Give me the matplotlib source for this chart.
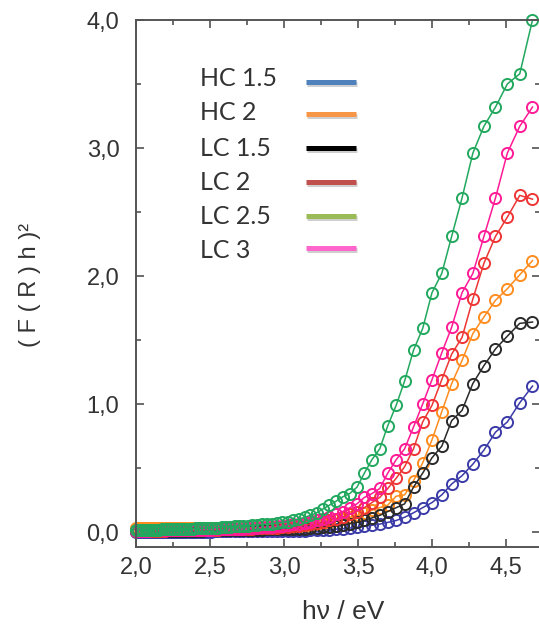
import numpy as np
import matplotlib
matplotlib.use('Agg')
import matplotlib.pyplot as plt
from matplotlib.ticker import MultipleLocator, FuncFormatter
from matplotlib.lines import Line2D
import matplotlib.patheffects as pe

# photon energy grid (eV)
hv = [2.000, 2.016, 2.033, 2.050, 2.067, 2.084, 2.102, 2.120, 2.138, 2.157,
      2.175, 2.195, 2.214, 2.234, 2.255, 2.275, 2.296, 2.318, 2.340, 2.362,
      2.385, 2.408, 2.431, 2.455, 2.480, 2.505, 2.531, 2.557, 2.583, 2.611,
      2.638, 2.667, 2.696, 2.725, 2.756, 2.787, 2.818, 2.851, 2.884, 2.918,
      2.952, 2.988, 3.024, 3.062, 3.100, 3.139, 3.179, 3.221, 3.263, 3.307,
      3.351, 3.397, 3.444, 3.493, 3.543, 3.594, 3.647, 3.701, 3.758, 3.815,
      3.875, 3.937, 4.000, 4.066, 4.133, 4.203, 4.276, 4.351, 4.429, 4.509,
      4.593, 4.679]

hc15 = [0.000, 0.000, 0.000, 0.000, 0.001, 0.001, 0.001, 0.001, 0.001, 0.001,
        0.001, 0.001, 0.002, 0.002, 0.002, 0.002, 0.002, 0.002, 0.002, 0.003,
        0.003, 0.003, 0.003, 0.003, 0.003, 0.003, 0.004, 0.004, 0.004, 0.004,
        0.004, 0.004, 0.005, 0.005, 0.005, 0.005, 0.006, 0.006, 0.006, 0.007,
        0.007, 0.007, 0.008, 0.008, 0.009, 0.010, 0.012, 0.014, 0.016, 0.019,
        0.022, 0.026, 0.031, 0.037, 0.044, 0.052, 0.062, 0.075, 0.090, 0.115,
        0.150, 0.190, 0.230, 0.290, 0.375, 0.440, 0.530, 0.640, 0.780, 0.860,
        1.010, 1.140]

hc2 = [0.030, 0.030, 0.030, 0.030, 0.031, 0.031, 0.031, 0.031, 0.031, 0.032,
       0.032, 0.032, 0.032, 0.032, 0.033, 0.033, 0.033, 0.033, 0.033, 0.033,
       0.034, 0.034, 0.034, 0.034, 0.034, 0.034, 0.034, 0.035, 0.035, 0.035,
       0.035, 0.035, 0.035, 0.035, 0.035, 0.035, 0.036, 0.036, 0.036, 0.036,
       0.037, 0.038, 0.040, 0.042, 0.045, 0.050, 0.055, 0.060, 0.070, 0.080,
       0.090, 0.100, 0.115, 0.130, 0.145, 0.170, 0.190, 0.210, 0.280, 0.290,
       0.400, 0.540, 0.720, 0.940, 1.160, 1.340, 1.550, 1.680, 1.810, 1.900,
       2.010, 2.120]

lc15 = [0.005, 0.005, 0.005, 0.006, 0.006, 0.006, 0.006, 0.007, 0.007, 0.007,
        0.007, 0.008, 0.008, 0.008, 0.008, 0.009, 0.009, 0.009, 0.010, 0.010,
        0.010, 0.011, 0.011, 0.011, 0.012, 0.012, 0.013, 0.013, 0.014, 0.014,
        0.015, 0.015, 0.016, 0.016, 0.017, 0.018, 0.018, 0.019, 0.020, 0.021,
        0.022, 0.023, 0.024, 0.025, 0.025, 0.027, 0.030, 0.033, 0.037, 0.042,
        0.048, 0.055, 0.065, 0.075, 0.090, 0.110, 0.130, 0.160, 0.190, 0.220,
        0.350, 0.460, 0.580, 0.670, 0.870, 0.950, 1.160, 1.300, 1.430, 1.530,
        1.630, 1.640]

lc2 = [0.008, 0.008, 0.008, 0.009, 0.009, 0.009, 0.010, 0.010, 0.010, 0.011,
       0.011, 0.011, 0.012, 0.012, 0.012, 0.013, 0.013, 0.014, 0.014, 0.015,
       0.015, 0.016, 0.016, 0.017, 0.017, 0.018, 0.019, 0.019, 0.020, 0.021,
       0.022, 0.023, 0.024, 0.025, 0.026, 0.027, 0.028, 0.029, 0.030, 0.030,
       0.033, 0.036, 0.040, 0.045, 0.050, 0.055, 0.062, 0.070, 0.080, 0.090,
       0.105, 0.120, 0.140, 0.160, 0.190, 0.230, 0.270, 0.340, 0.420, 0.510,
       0.650, 0.860, 0.990, 1.190, 1.390, 1.520, 1.820, 2.100, 2.310, 2.460,
       2.630, 2.600]

lc25 = [0.015, 0.015, 0.016, 0.016, 0.017, 0.017, 0.018, 0.018, 0.019, 0.019,
        0.020, 0.020, 0.021, 0.021, 0.022, 0.022, 0.023, 0.024, 0.025, 0.026,
        0.027, 0.028, 0.029, 0.030, 0.031, 0.032, 0.034, 0.035, 0.037, 0.039,
        0.041, 0.043, 0.045, 0.048, 0.050, 0.053, 0.056, 0.059, 0.062, 0.066,
        0.070, 0.075, 0.080, 0.090, 0.100, 0.115, 0.130, 0.150, 0.180, 0.210,
        0.240, 0.275, 0.300, 0.350, 0.460, 0.565, 0.650, 0.830, 0.990, 1.180,
        1.420, 1.590, 1.870, 2.020, 2.310, 2.610, 2.960, 3.170, 3.320, 3.500,
        3.580, 4.000]

lc3 = [0.010, 0.010, 0.010, 0.011, 0.011, 0.011, 0.012, 0.012, 0.012, 0.013,
       0.013, 0.013, 0.014, 0.014, 0.014, 0.015, 0.015, 0.016, 0.016, 0.017,
       0.017, 0.018, 0.018, 0.019, 0.019, 0.019, 0.020, 0.020, 0.020, 0.021,
       0.022, 0.023, 0.025, 0.027, 0.029, 0.031, 0.033, 0.036, 0.039, 0.042,
       0.046, 0.050, 0.055, 0.060, 0.066, 0.072, 0.080, 0.090, 0.105, 0.120,
       0.140, 0.160, 0.190, 0.220, 0.270, 0.300, 0.340, 0.460, 0.565, 0.650,
       0.820, 1.000, 1.190, 1.400, 1.600, 1.870, 2.020, 2.310, 2.610, 2.960,
       3.170, 3.320]

labels = ['HC 1.5', 'HC 2', 'LC 1.5', 'LC 2', 'LC 2.5', 'LC 3']
series = [hc15, hc2, lc15, lc2, lc25, lc3]
data_colors = ['#3b3ba8', '#ff8c1e', '#2a2a2a', '#ee3535', '#22a85e', '#ff1a96']
legend_colors = ['#4f81bd', '#f79646', '#000000', '#c0504d', '#9bbb59', '#ff66cc']
draw_order = [0, 1, 2, 3, 5, 4]

W, H = 539, 630
fig = plt.figure(figsize=(W / 100, H / 100), dpi=100)
ax = fig.add_axes([136 / W, 1 - 547 / H, (540 - 136) / W, (547 - 20) / H])

for i in draw_order:
    ax.plot(hv, series[i], color=data_colors[i], lw=1.1, marker='o', ms=8,
            mfc='none', mec=data_colors[i], mew=1.4, clip_on=False)

ax.set_xlim(2.0, 2 + (540 - 136) / 148)
ax.set_ylim(-15 / 128, 4.0)
ax.xaxis.set_major_locator(MultipleLocator(0.5))
ax.xaxis.set_minor_locator(MultipleLocator(0.25))
ax.yaxis.set_major_locator(MultipleLocator(1.0))
ax.yaxis.set_minor_locator(MultipleLocator(0.5))
comma = FuncFormatter(lambda v, p: ('%.1f' % v).replace('.', ','))
ax.xaxis.set_major_formatter(comma)
ax.yaxis.set_major_formatter(comma)

ax.tick_params(which='both', direction='in', top=True, right=True,
               color='#444444', width=1.1)
ax.tick_params(which='major', length=6)
ax.tick_params(which='minor', length=3.5)
ax.tick_params(axis='x', which='major', pad=7)
ax.tick_params(axis='y', which='major', pad=12)
for lab in ax.get_xticklabels() + ax.get_yticklabels():
    lab.set_fontfamily('Liberation Sans')
    lab.set_fontsize(17)
    lab.set_color('#333333')
for s in ax.spines.values():
    s.set_color('#555555')
    s.set_linewidth(1.4)

# axis titles
fig.text(30 / W, 1 - 285 / H, '( F ( R ) h )\u00b2', rotation=90,
         ha='center', va='center', family='Liberation Sans', fontsize=17,
         color='#333333')
fig.text(343 / W, 1 - 612 / H, 'h\u03bd / eV', ha='center', va='center',
         family='Liberation Sans', fontsize=19, color='#333333')

# hand drawn legend with shadowed swatches
ys = [78, 112, 148, 182, 217, 251]
line_ys = [82, 114, 148, 182, 216, 248]
for lab, c, y, ly in zip(labels, legend_colors, ys, line_ys):
    fig.text(200 / W, 1 - y / H, lab, ha='left', va='center', family='Lato',
             fontsize=18, color='#333333')
    ln = Line2D([306 / W, 356 / W], [1 - ly / H, 1 - ly / H],
                transform=fig.transFigure, color=c, lw=3.6,
                solid_capstyle='butt',
                path_effects=[pe.SimpleLineShadow(offset=(0.8, -1.5), shadow_color='#888888', alpha=0.4),
                              pe.Normal()])
    fig.add_artist(ln)

fig.savefig('out.png', dpi=100)
